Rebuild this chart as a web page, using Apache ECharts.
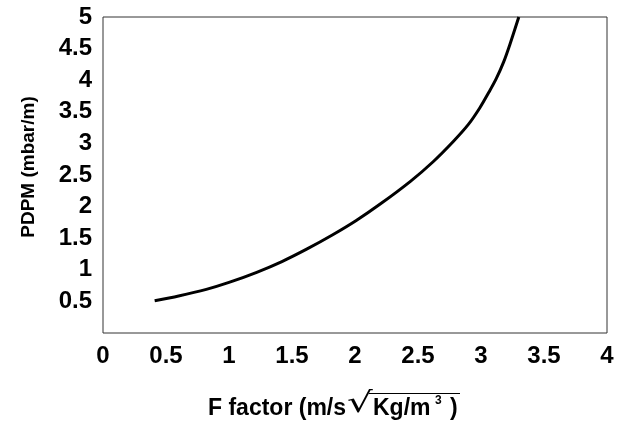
<!DOCTYPE html>
<html>
<head>
<meta charset="utf-8">
<script src="https://cdn.jsdelivr.net/npm/echarts@6/dist/echarts.min.js"></script>
<style>html,body{margin:0;padding:0;background:#fff}#c{width:625px;height:425px}</style>
</head>
<body>
<div id="c"></div>
<script>
var fFactor = [0.41, 0.6, 0.82, 1.0, 1.22, 1.42, 1.62, 1.82, 2.01, 2.2, 2.44, 2.62, 2.78, 2.9, 2.99, 3.06, 3.12, 3.18, 3.23, 3.3];
var pdpm    = [0.51, 0.585, 0.69, 0.80, 0.96, 1.13, 1.33, 1.55, 1.78, 2.04, 2.40, 2.71, 3.03, 3.30, 3.56, 3.80, 4.02, 4.29, 4.57, 5.0];
var xTicks = [0, 0.5, 1, 1.5, 2, 2.5, 3, 3.5, 4];
var yTicks = [0.5, 1, 1.5, 2, 2.5, 3, 3.5, 4, 4.5, 5];

var pts = fFactor.map(function (x, i) { return [x, pdpm[i]]; });
var chart = echarts.init(document.getElementById('c'));
var font = 'Liberation Sans, Arial, sans-serif';
chart.setOption({
  animation: false,
  backgroundColor: '#fff',
  grid: { left: 103, right: 18, top: 17, bottom: 92, show: true, borderColor: '#333', borderWidth: 1, containLabel: false },
  xAxis: {
    type: 'value', min: 0, max: 4, interval: 0.5,
    axisLine: { show: false }, axisTick: { show: false }, splitLine: { show: false },
    axisLabel: { margin: 11, fontFamily: font, fontWeight: 'bold', fontSize: 24, color: '#000',
      formatter: function (v) { return xTicks.indexOf(v) >= 0 ? String(v) : ''; } }
  },
  yAxis: {
    type: 'value', min: 0, max: 5, interval: 0.5,
    axisLine: { show: false }, axisTick: { show: false }, splitLine: { show: false },
    axisLabel: { margin: 11, fontFamily: font, fontWeight: 'bold', fontSize: 24, color: '#000',
      formatter: function (v) { return yTicks.indexOf(v) >= 0 ? String(v) : ''; } }
  },
  graphic: [
    { type: 'text', x: 29, y: 167, rotation: Math.PI / 2,
      style: { text: 'PDPM (mbar/m)', font: 'bold 19px ' + font, fill: '#000', align: 'center', verticalAlign: 'middle' } },
    { type: 'text', left: 208, top: 397,
      style: { text: 'F factor (m/s', font: 'bold 23px ' + font, fill: '#000' } },
    { type: 'text', x: 347, y: 390, scaleX: 1.5, scaleY: 1.05,
      style: { text: '\u221A', font: '27px DejaVu Sans, sans-serif', fill: '#000' } },
    { type: 'text', left: 373, top: 397,
      style: { text: 'Kg/m', font: 'bold 23px ' + font, fill: '#000' } },
    { type: 'text', left: 435, top: 395,
      style: { text: '3', font: 'bold 12px ' + font, fill: '#000' } },
    { type: 'text', left: 450, top: 397,
      style: { text: ')', font: 'bold 23px ' + font, fill: '#000' } },
    { type: 'line', shape: { x1: 369, y1: 393.5, x2: 460, y2: 393.5 },
      style: { stroke: '#000', lineWidth: 1.2 } }
  ],
  series: [{
    type: 'line', data: pts, smooth: 0.3, showSymbol: false,
    lineStyle: { color: '#000', width: 3 }
  }]
});
</script>
</body>
</html>
